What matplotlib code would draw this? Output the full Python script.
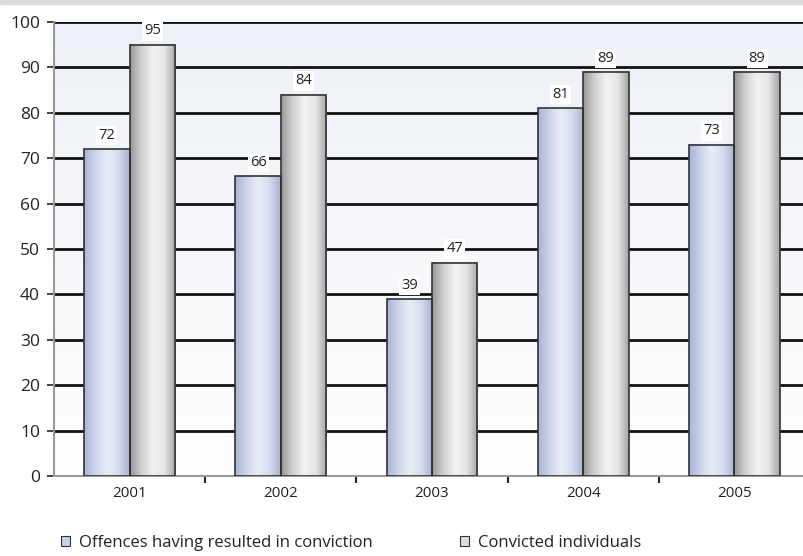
import numpy as np
import matplotlib
matplotlib.use("Agg")
from matplotlib import pyplot as plt
from matplotlib.colors import LinearSegmentedColormap
from matplotlib.patches import Rectangle

years = ["2001", "2002", "2003", "2004", "2005"]
offences = [72, 66, 39, 81, 73]
convicted = [95, 84, 47, 89, 89]
series_names = ["Offences having resulted in conviction", "Convicted individuals"]

plt.rcParams['font.family'] = ['Open Sans', 'DejaVu Sans']

fig = plt.figure(figsize=(8.04, 5.56), dpi=100)
fig.patches.append(Rectangle((0, 1 - 4 / 556), 1, 4 / 556, transform=fig.transFigure,
                             color="#dcdcdc", zorder=0))

# axes runs a bit past the right edge of the figure
ax = fig.add_axes([54 / 804, 80 / 556, 756 / 804, 454 / 556])

x = np.arange(len(years))
w = 0.3

# soft vertical gradient behind the plot
bg = LinearSegmentedColormap.from_list("bg", ["#ffffff", "#edf0f6"])
ax.imshow(np.linspace(0, 1, 256).reshape(-1, 1), cmap=bg, aspect="auto",
          extent=[-0.5, len(years) - 0.5, 0, 100], origin="lower", zorder=0)

blue_cm = LinearSegmentedColormap.from_list(
    "blue", ["#a9b4d6", "#ccd4ea", "#e9edf6", "#d6dcee", "#a6b0d2"])
gray_cm = LinearSegmentedColormap.from_list(
    "gray", ["#989898", "#d0d0d0", "#f2f2f2", "#e6e6e6", "#a4a4a4"])

bars1 = ax.bar(x - w / 2, offences, w, facecolor="none", edgecolor="#333333",
               linewidth=1.2, zorder=4)
bars2 = ax.bar(x + w / 2, convicted, w, facecolor="none", edgecolor="#333333",
               linewidth=1.2, zorder=4)

# horizontal shading inside each bar
grad = np.linspace(0, 1, 256).reshape(1, -1)
for bars, cm in [(bars1, blue_cm), (bars2, gray_cm)]:
    for b in bars:
        ax.imshow(grad, cmap=cm, aspect="auto", zorder=3,
                  extent=[b.get_x(), b.get_x() + b.get_width(), 0, b.get_height()])

for bars, vals in [(bars1, offences), (bars2, convicted)]:
    for b, v in zip(bars, vals):
        ax.annotate(str(v), (b.get_x() + b.get_width() / 2, v), xytext=(0, 4.5),
                    textcoords="offset points", ha="center", va="bottom",
                    fontsize=10.5, color="#222222", zorder=5,
                    bbox=dict(boxstyle="square,pad=0.15", fc="white", ec="none"))

ax.set_xlim(-0.5, len(years) - 0.5)
ax.set_ylim(0, 100)
ax.set_yticks(range(0, 101, 10))
ax.tick_params(axis="y", labelsize=12.5, length=5, width=1.2, pad=5, color="#222222",
               labelcolor="#222222")
for yv in range(10, 101, 10):
    ax.axhline(yv, color="#111111", linewidth=2, zorder=1)

ax.set_xticks(x)
ax.set_xticklabels(years)
ax.tick_params(axis="x", length=0, labelsize=11, pad=7, labelcolor="#222222")
ax.set_xticks(np.arange(0.5, len(years) - 1, 1), minor=True)
ax.tick_params(axis="x", which="minor", length=5, width=1.5, color="#222222")

for s in ["top", "right"]:
    ax.spines[s].set_visible(False)
ax.spines["left"].set_color("#999999")
ax.spines["left"].set_linewidth(1.5)
ax.spines["bottom"].set_color("#999999")
ax.spines["bottom"].set_linewidth(1.5)

handles = [Rectangle((0, 0), 1, 1, fc="#c8cfe6", ec="#333333", lw=0.8),
           Rectangle((0, 0), 1, 1, fc="#dcdcdc", ec="#333333", lw=0.8)]
fig.legend(handles, series_names, loc="center left", bbox_to_anchor=(46 / 804, 1 - 543 / 556),
           ncol=2, frameon=False, fontsize=12, handlelength=0.55, handleheight=0.55,
           handletextpad=0.55, columnspacing=5.2, labelcolor="#222222")

fig.savefig("out.png", dpi=100)
